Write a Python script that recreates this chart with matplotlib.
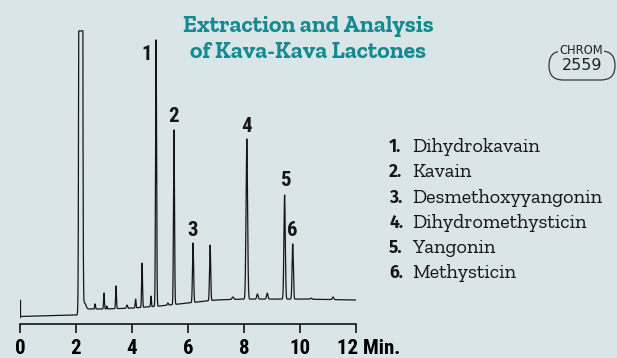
import numpy as np
import matplotlib.pyplot as plt
from matplotlib import font_manager
from matplotlib.patches import FancyBboxPatch
from matplotlib.transforms import ScaledTranslation, IdentityTransform

# Kava-kava lactone chromatogram; detector signal in arbitrary units.
# Baseline level at a few retention times (min).
base_t = [0.0, 2.05, 2.35, 3.0, 4.0, 5.0, 6.0, 7.0, 8.0, 10.0, 12.0]
base_s = [2.5, 3.0, 5.0, 5.0, 5.3, 6.0, 7.0, 8.0, 8.3, 8.3, 8.0]

# Peaks: retention time (min), apex signal, width (sigma, min)
peak_t = [2.17, 2.30, 2.68, 3.00, 3.10, 3.43, 3.82, 4.13, 4.36, 4.68, 4.86,
          5.28, 5.50, 6.18, 6.79, 7.60, 8.10, 8.48, 8.83, 9.45, 9.74, 10.40, 11.18]
peak_s = [3000.0, 7.0, 6.7, 10.3, 6.0, 12.7, 6.3, 8.3, 20.3, 9.3, 94.7,
          7.0, 64.7, 27.0, 26.3, 9.0, 61.7, 10.0, 10.3, 43.0, 26.7, 8.6, 9.0]
peak_w = [0.029, 0.05, 0.015, 0.015, 0.012, 0.015, 0.02, 0.015, 0.016, 0.014, 0.018,
          0.02, 0.018, 0.02, 0.02, 0.03, 0.027, 0.025, 0.025, 0.024, 0.022, 0.03, 0.025]
full_scale = 97.7

# Injection marker at t = 0
inject_s = [8.0, 2.5]

# Numbered compounds: label position (time, signal)
num_labels = ["1", "2", "3", "4", "5", "6"]
num_t = [4.54, 5.50, 6.18, 8.10, 9.46, 9.72]
num_s = [90.0, 69.0, 31.3, 65.7, 47.7, 31.0]
compounds = ["Dihydrokavain", "Kavain", "Desmethoxyyangonin",
             "Dihydromethysticin", "Yangonin", "Methysticin"]

x_ticks = [0, 2, 4, 6, 8, 10, 12]
x_tick_labels = ["0", "2", "4", "6", "8", "10", "12 Min."]

title_lines = ["Extraction and Analysis", "of Kava-Kava Lactones"]

bg = "#d9e5e6"
teal = "#138a8f"
ink = "#161616"


def pick(*families):
    have = {f.name for f in font_manager.fontManager.ttflist}
    for fam in families:
        if fam in have:
            return fam
    return "DejaVu Sans"


narrow = pick("Roboto Condensed", "Archivo Narrow", "PT Sans Narrow",
              "Liberation Sans Narrow", "Fira Sans Condensed", "Barlow Condensed",
              "IBM Plex Sans Condensed", "Saira SemiCondensed")
slab = pick("Zilla Slab", "DejaVu Serif")
sans = pick("Fira Sans", "Noto Sans", "DejaVu Sans")

t = np.linspace(0, 12, 12001)
signal = np.interp(t, base_t, base_s)
for pt, ps, pw in zip(peak_t, peak_s, peak_w):
    h = ps - np.interp(pt, base_t, base_s)
    signal += h * np.exp(-0.5 * ((t - pt) / pw) ** 2)
signal = np.minimum(signal, full_scale)

fig = plt.figure(figsize=(6.17, 3.58), dpi=100, facecolor=bg)
W, H = 617, 358
ax = fig.add_axes([20 / W, (H - 324) / H, 336 / W, 300 / H])
ax.patch.set_alpha(0)

ax.plot(t, signal, color=ink, lw=0.9)
ax.plot([0, 0], inject_s, color=ink, lw=0.9)

for lab, lt, ls in zip(num_labels, num_t, num_s):
    ax.text(lt, ls, lab, ha="center", va="center", fontsize=15,
            fontweight="bold", family=narrow, color=ink)

ax.set_xlim(0, 12)
ax.set_ylim(0, 100)
for side in ("top", "right", "left"):
    ax.spines[side].set_visible(False)
ax.spines["bottom"].set_linewidth(1.1)
ax.set_yticks([])
ax.set_xticks(x_ticks)
ax.set_xticklabels(x_tick_labels)
ax.tick_params(axis="x", direction="out", length=6.5, width=1.1, pad=4)
for lbl in ax.get_xticklabels():
    lbl.set_fontsize(15)
    lbl.set_fontweight("bold")
    lbl.set_family(narrow)
last = ax.get_xticklabels()[-1]
last.set_ha("left")
last.set_transform(last.get_transform() + ScaledTranslation(-0.19, 0, fig.dpi_scale_trans))

for i, line in enumerate(title_lines):
    fig.text(308 / W, 1 - (32 + 26 * i) / H, line, ha="center", va="baseline",
             fontsize=17, fontweight="bold", family=slab, color=teal)

# legend of compounds
for i, name in enumerate(compounds):
    yb = 1 - (152 + 25.3 * i) / H
    fig.text(389 / W, yb, f"{i + 1}.", ha="left", va="baseline", fontsize=12.5,
             fontweight="bold", family=sans, color=ink)
    fig.text(412 / W, yb, name, ha="left", va="baseline", fontsize=14.5,
             family=slab, color=ink)

# CHROM badge (display pixels, origin bottom-left)
badge = FancyBboxPatch((549, H - 80), 66, 29,
                       boxstyle="round,pad=0,rounding_size=14",
                       transform=IdentityTransform(), fill=False, lw=0.8,
                       edgecolor="#222222")
fig.patches.append(badge)
fig.text(581 / W, 1 - 51 / H, "CHROM", ha="center", va="center", fontsize=8.3,
         family="DejaVu Sans", color="#222222",
         bbox=dict(facecolor=bg, edgecolor="none", pad=0.6))
fig.text(582 / W, 1 - 65.5 / H, "2559", ha="center", va="center", fontsize=11.5,
         family="DejaVu Sans", color="#222222")

fig.savefig("out.png", dpi=100, facecolor=bg)
